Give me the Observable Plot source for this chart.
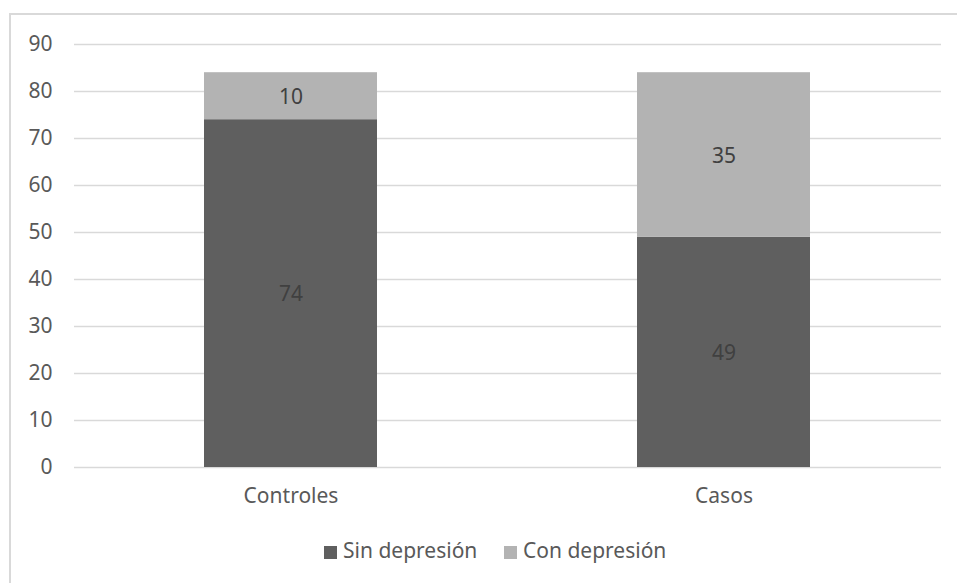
<!DOCTYPE html>
<html>
<head>
<meta charset="utf-8">
<script src="https://cdn.jsdelivr.net/npm/d3@7"></script>
<script src="https://cdn.jsdelivr.net/npm/@observablehq/plot@0.6"></script>
<style>
  html, body { margin: 0; padding: 0; background: #fff; overflow: hidden; }
  #frame { position: absolute; left: 9px; top: 13px; width: 1000px; height: 700px;
           border-left: 2px solid #d9d9d9; border-top: 2px solid #d9d9d9; box-sizing: border-box; }
  #chart { position: absolute; left: 0; top: 0; }
  #legend { position: absolute; left: 0; top: 536px; width: 957px; height: 28px;
            font-family: "Noto Sans", sans-serif; font-size: 21px; color: #595959; }
  .item { position: absolute; top: 0; line-height: 28px; white-space: nowrap; }
  .sw { display: inline-block; width: 13px; height: 13px; margin-right: 6px; vertical-align: -1px; }
</style>
</head>
<body>
<div id="frame"></div>
<div id="chart"></div>
<div id="legend"></div>
<script>
const groups = ["Controles", "Casos"];
const series = ["Sin depresión", "Con depresión"];
const sinDepresion = [74, 49];
const conDepresion = [10, 35];
const yTicks = [0, 10, 20, 30, 40, 50, 60, 70, 80, 90];
const colors = ["#5f5f5f", "#b3b3b3"];

const rows = [];
groups.forEach((g, i) => {
  rows.push({group: g, series: series[0], value: sinDepresion[i]});
  rows.push({group: g, series: series[1], value: conDepresion[i]});
});
const labels = [];
groups.forEach((g, i) => {
  labels.push({group: g, mid: sinDepresion[i] / 2, text: String(sinDepresion[i])});
  labels.push({group: g, mid: sinDepresion[i] + conDepresion[i] / 2, text: String(conDepresion[i])});
});

const font = '"Noto Sans", sans-serif';
const chart = Plot.plot({
  width: 957,
  height: 520,
  marginTop: 44,
  marginBottom: 53,
  marginLeft: 74,
  marginRight: 16,
  style: {fontFamily: font, fontSize: "21px", color: "#595959", background: "transparent"},
  x: {domain: groups, paddingInner: 0.6, paddingOuter: 0.3, label: null},
  y: {domain: [0, 90], ticks: yTicks, label: null},
  color: {domain: series, range: colors},
  marks: [
    Plot.gridY(yTicks, {stroke: "#d9d9d9", strokeOpacity: 1, strokeWidth: 1.6}),
    Plot.axisY(yTicks, {tickSize: 0, tickPadding: 22, fill: "#595959", fontSize: 21, label: null}),
    Plot.axisX({tickSize: 0, tickPadding: 21, fill: "#595959", fontSize: 21, label: null}),
    Plot.barY(rows, {x: "group", y: "value", fill: "series", order: series}),
    Plot.text(labels, {x: "group", y: "mid", text: "text", fill: "#404040", fontSize: 21, dy: 1})
  ]
});
document.getElementById("chart").appendChild(chart);

const legend = document.getElementById("legend");
const positions = [324, 504];
series.forEach((s, i) => {
  const it = document.createElement("div");
  it.className = "item";
  it.style.left = positions[i] + "px";
  const sw = document.createElement("span");
  sw.className = "sw";
  sw.style.background = colors[i];
  it.appendChild(sw);
  it.appendChild(document.createTextNode(s));
  legend.appendChild(it);
});
</script>
</body>
</html>
